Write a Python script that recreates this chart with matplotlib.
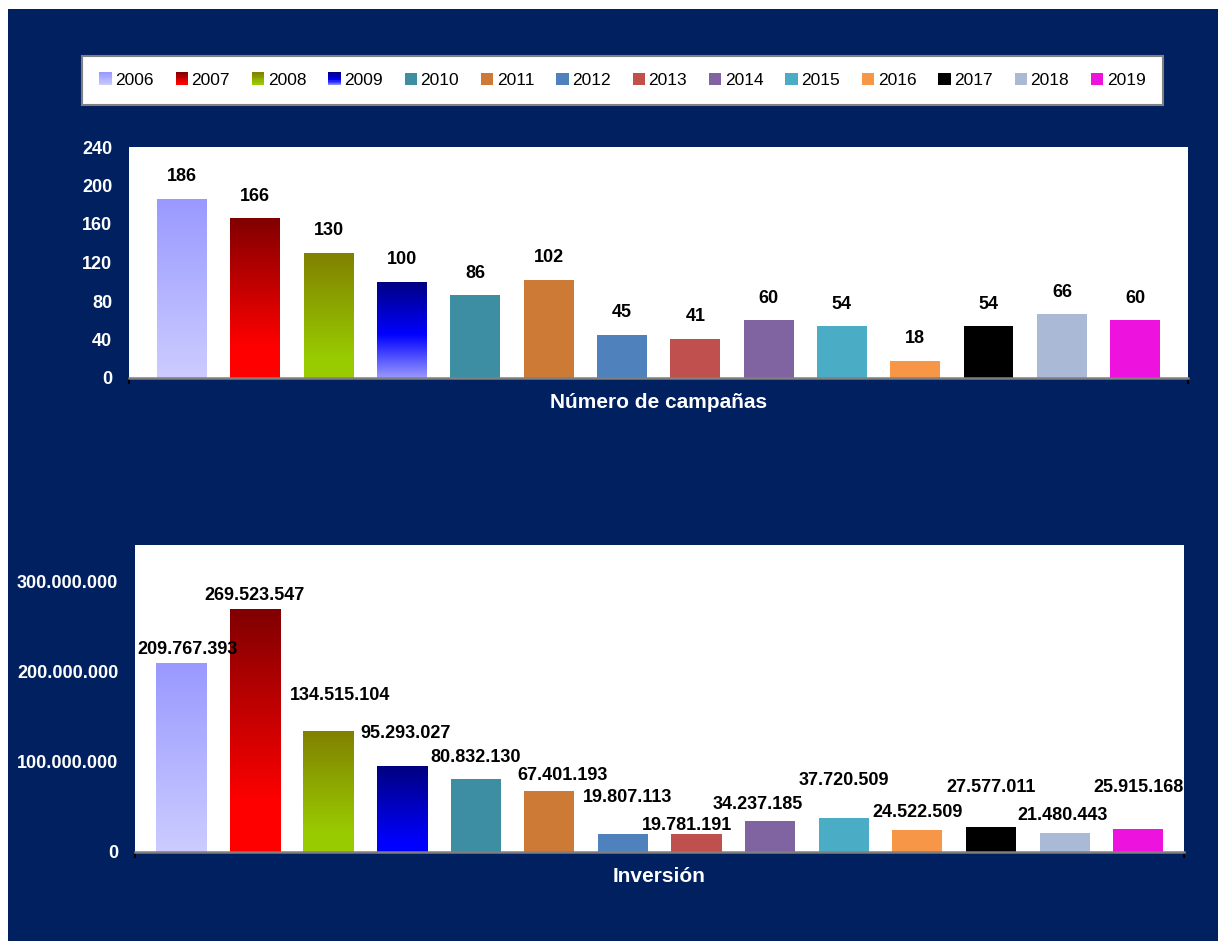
"""
Campañas e inversión por año, 2006-2019
"""
import matplotlib
matplotlib.use("Agg")
import matplotlib.pyplot as plt
import matplotlib.colors as mc
import matplotlib.ticker as ticker
from matplotlib.patches import Rectangle
import numpy as np

plt.rcParams['font.family'] = ['Liberation Sans', 'DejaVu Sans']

NAVY = '#002060'

years = ['2006', '2007', '2008', '2009', '2010', '2011', '2012',
         '2013', '2014', '2015', '2016', '2017', '2018', '2019']
campaigns = [186, 166, 130, 100, 86, 102, 45, 41, 60, 54, 18, 54, 66, 60]
investment = [209767393, 269523547, 134515104, 95293027, 80832130, 67401193,
              19807113, 19781191, 34237185, 37720509, 24522509, 27577011,
              21480443, 25915168]

# bar fills: a plain colour, or gradient stops (bottom=0 .. top=1)
fills = {
    '2006': [(0, '#CCCCFF'), (1, '#9999FF')],
    '2007': [(0, '#FF0000'), (0.2, '#FF0000'), (1, '#800000')],
    '2008': [(0, '#99CC00'), (0.15, '#99CC00'), (1, '#808000')],
    '2009': [(0, '#9999FF'), (0.45, '#0000FF'), (1, '#000080')],
    '2010': '#3D8EA3', '2011': '#CD7A37', '2012': '#4F81BD',
    '2013': '#C0504D', '2014': '#8064A2', '2015': '#4BACC6',
    '2016': '#F79646', '2017': '#000000', '2018': '#AAB9D6',
    '2019': '#EE12DE',
}
# the lower chart uses a plain navy->blue gradient for 2009
fills_inv = dict(fills)
fills_inv['2009'] = [(0, '#0000FF'), (0.1, '#0000FF'), (1, '#000080')]

# label offsets (pixels) for the lower chart, set by hand in the original
inv_offsets = [(7, 14), (0, 14), (12, 35), (4, 33), (0, 22), (13, 16), (5, 37),
               (-10, 9), (-12, 17), (0, 38), (0, 17), (0, 40), (-2, 17), (0, 41)]


def make_cmap(stops):
    return mc.LinearSegmentedColormap.from_list('g', stops)


class Swatch:
    def __init__(self, fill):
        self.fill = fill


class SwatchHandler:
    def legend_artist(self, legend, orig_handle, fontsize, handlebox):
        x0, y0 = -handlebox.xdescent, -handlebox.ydescent
        w, h = handlebox.width, handlebox.height
        fill = orig_handle.fill
        if isinstance(fill, str):
            r = Rectangle((x0, y0), w, h, facecolor=fill, edgecolor='none',
                          transform=handlebox.get_transform())
            handlebox.add_artist(r)
            return r
        cmap = make_cmap(fill)
        n = 10
        for i in range(n):
            r = Rectangle((x0, y0 + i * h / n), w, h / n + 0.3,
                          facecolor=cmap((i + 0.5) / n), edgecolor='none',
                          transform=handlebox.get_transform())
            handlebox.add_artist(r)
        return r


def draw_bars(ax, values, fill_map, xlim, ylim):
    x = np.arange(len(values))
    bars = ax.bar(x, values, width=0.68, zorder=1)
    grad = np.linspace(0, 1, 256).reshape(-1, 1)
    for bar, yr in zip(bars, years):
        fill = fill_map[yr]
        if isinstance(fill, str):
            bar.set_facecolor(fill)
            bar.set_edgecolor('none')
        else:
            bar.set_facecolor('none')
            bar.set_edgecolor('none')
            bx, bw, bh = bar.get_x(), bar.get_width(), bar.get_height()
            im = ax.imshow(grad, cmap=make_cmap(fill), origin='lower', aspect='auto',
                           extent=[bx, bx + bw, 0, bh], zorder=1, interpolation='bilinear')
            im.set_clip_path(bar)
    ax.set_xlim(*xlim)
    ax.set_ylim(*ylim)
    ax.set_facecolor('white')
    for s in ['top', 'right', 'left']:
        ax.spines[s].set_visible(False)
    ax.spines['bottom'].set_color('#7F7F7F')
    ax.spines['bottom'].set_linewidth(1.8)
    ax.set_xticks(list(xlim))
    ax.tick_params(axis='x', length=4, width=1.5, color='black', labelbottom=False)
    ax.tick_params(axis='y', length=0, pad=12, labelcolor='white')
    return bars


fig = plt.figure(figsize=(12.18, 9.41), dpi=100, facecolor='white')
fig.patches.append(Rectangle((8 / 1218, 0), 1, 1 - 9 / 941, transform=fig.transFigure,
                             facecolor=NAVY, edgecolor='none', zorder=-10))

# ---- upper chart: number of campaigns
ax1 = fig.add_axes([129 / 1218, 563 / 941, 1059 / 1218, 231 / 941])
bars1 = draw_bars(ax1, campaigns, fills, (-0.723, 13.72), (0, 240))
ax1.set_yticks(range(0, 241, 40))
for lab in ax1.get_yticklabels():
    lab.set_fontweight('bold')
    lab.set_fontsize(13)
for bar, v in zip(bars1, campaigns):
    ax1.annotate(str(v), (bar.get_x() + bar.get_width() / 2, v), xytext=(0, 22),
                 textcoords='offset pixels', ha='center', va='center',
                 fontsize=13, fontweight='bold', color='black')
ax1.annotate('Número de campañas', (0.5, 0), xycoords='axes fraction', xytext=(0, -25),
             textcoords='offset pixels', ha='center', va='center',
             fontsize=15, fontweight='bold', color='white')

# ---- lower chart: investment
ax2 = fig.add_axes([135 / 1218, 89 / 941, 1049 / 1218, 307 / 941])
bars2 = draw_bars(ax2, investment, fills_inv, (-0.625, 13.62), (0, 3.41e8))
ax2.set_yticks([0, 1e8, 2e8, 3e8])
ax2.yaxis.set_major_formatter(ticker.FuncFormatter(lambda v, p: f"{int(v):,}".replace(",", ".")))
for lab in ax2.get_yticklabels():
    lab.set_fontweight('bold')
    lab.set_fontsize(13)
for bar, v, off in zip(bars2, investment, inv_offsets):
    ax2.annotate(f"{v:,}".replace(",", "."), (bar.get_x() + bar.get_width() / 2, v),
                 xytext=off, textcoords='offset pixels', ha='center', va='center',
                 fontsize=13, fontweight='bold', color='black')
ax2.annotate('Inversión', (0.5, 0), xycoords='axes fraction', xytext=(0, -25),
             textcoords='offset pixels', ha='center', va='center',
             fontsize=15, fontweight='bold', color='white')

# ---- legend
handles = [Swatch(fills[y]) for y in years]
leg = fig.legend(handles, years, handler_map={Swatch: SwatchHandler()},
                 loc='center', ncol=14, mode='expand',
                 bbox_to_anchor=(82 / 1218, 835 / 941, 1081 / 1218, 51 / 941),
                 fontsize=12.5, handlelength=0.72, handleheight=0.72,
                 handletextpad=0.2, columnspacing=0.5, borderpad=1.0,
                 borderaxespad=0, frameon=True, fancybox=False, framealpha=1)
leg.get_frame().set_edgecolor('#808080')
leg.get_frame().set_linewidth(1.5)

fig.savefig('out.png', dpi=100, facecolor=fig.get_facecolor())
